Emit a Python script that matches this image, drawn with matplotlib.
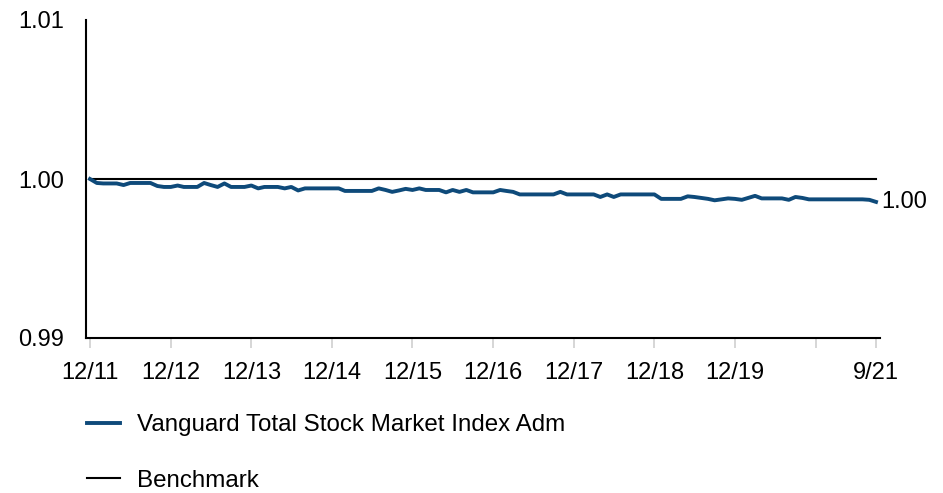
import matplotlib
matplotlib.use('Agg')
import matplotlib.pyplot as plt
import matplotlib.dates as mdates
import pandas as pd

plt.rcParams['font.family'] = ['Liberation Sans', 'DejaVu Sans']

# monthly growth-of-$1 relative to benchmark, 12/2011 .. 9/2021
dates = pd.date_range('2011-12-31', '2021-09-30', freq='ME')
fund = [
    1.00000, 0.99975, 0.99972, 0.99972, 0.99972, 0.99962, 0.99975, 0.99975,
    0.99975, 0.99975, 0.99956, 0.99950, 0.99950, 0.99959, 0.99950, 0.99950,
    0.99950, 0.99975, 0.99962, 0.99950, 0.99972, 0.99950, 0.99950, 0.99950,
    0.99959, 0.99941, 0.99950, 0.99950, 0.99950, 0.99941, 0.99950, 0.99928,
    0.99941, 0.99941, 0.99941, 0.99941, 0.99941, 0.99941,
    0.99925, 0.99925, 0.99925, 0.99925, 0.99925,
    0.99941, 0.99931, 0.99919, 0.99928, 0.99938, 0.99931, 0.99941,
    0.99931, 0.99931, 0.99931, 0.99916, 0.99931, 0.99919, 0.99931,
    0.99916, 0.99916, 0.99916, 0.99916, 0.99931, 0.99925, 0.99919,
    0.99903, 0.99903, 0.99903, 0.99903, 0.99903, 0.99903, 0.99919,
    0.99903, 0.99903, 0.99903, 0.99903, 0.99903, 0.99887, 0.99903, 0.99887,
    0.99903, 0.99903, 0.99903, 0.99903, 0.99903, 0.99903,
    0.99875, 0.99875, 0.99875, 0.99875, 0.99891, 0.99887, 0.99881, 0.99875,
    0.99866, 0.99872, 0.99878, 0.99875, 0.99869, 0.99881, 0.99894,
    0.99878, 0.99878, 0.99878, 0.99878, 0.99869, 0.99887, 0.99881,
    0.99872, 0.99872, 0.99872, 0.99872, 0.99872, 0.99872, 0.99872, 0.99872,
    0.99872, 0.99869, 0.99856,
]
benchmark = [1.0] * len(dates)

tick_dates = pd.to_datetime(['2011-12-31', '2012-12-31', '2013-12-31', '2014-12-31',
                             '2015-12-31', '2016-12-31', '2017-12-31', '2018-12-31',
                             '2019-12-31', '2020-12-31', '2021-09-30'])
tick_labels = ['12/11', '12/12', '12/13', '12/14', '12/15', '12/16', '12/17',
               '12/18', '12/19', '', '9/21']
y_ticks = [0.99, 1.00, 1.01]
y_labels = ['0.99', '1.00', '1.01']

fund_color = '#0e4a7a'

fig = plt.figure(figsize=(9.43, 4.93), dpi=100)
ax = fig.add_axes([86 / 943, 1 - 338 / 493, (880 - 86) / 943, (338 - 20) / 493])

ax.plot(dates, benchmark, color='black', lw=1.5, label='Benchmark', zorder=2)
ax.plot(dates, fund, color=fund_color, lw=2.8, label='Vanguard Total Stock Market Index Adm',
        zorder=3)

# end label
ax.annotate('1.00', xy=(dates[-1], fund[-1]), xytext=(4, 0), textcoords='offset points',
            va='center', ha='left', fontsize=17, annotation_clip=False)

# x range: small pad around the first and last month
x0 = mdates.date2num(dates[0])
x1 = mdates.date2num(dates[-1])
pad_day = (x1 - x0) / 786
ax.set_xlim(x0 - 4 * pad_day, x1 + 4 * pad_day)
ax.set_ylim(0.99, 1.01)

ax.set_xticks(tick_dates)
ax.set_xticklabels(tick_labels, fontsize=17)
ax.set_yticks(y_ticks)
ax.set_yticklabels(y_labels, fontsize=17)
ax.tick_params(axis='x', length=7, width=1.2, color='#d0d0d0', pad=10)
ax.tick_params(axis='y', length=0, pad=16)

for side in ['top', 'right']:
    ax.spines[side].set_visible(False)
for side in ['left', 'bottom']:
    ax.spines[side].set_linewidth(1.5)
    ax.spines[side].set_color('black')

handles, labels = ax.get_legend_handles_labels()
fig.legend(handles[::-1], labels[::-1], loc='upper left', bbox_to_anchor=(87 / 943, 1 - 414 / 493),
           frameon=False, fontsize=17.4, handlelength=1.35, handletextpad=0.72,
           labelspacing=1.4, borderpad=0, borderaxespad=0)

fig.savefig('out.png', dpi=100)
